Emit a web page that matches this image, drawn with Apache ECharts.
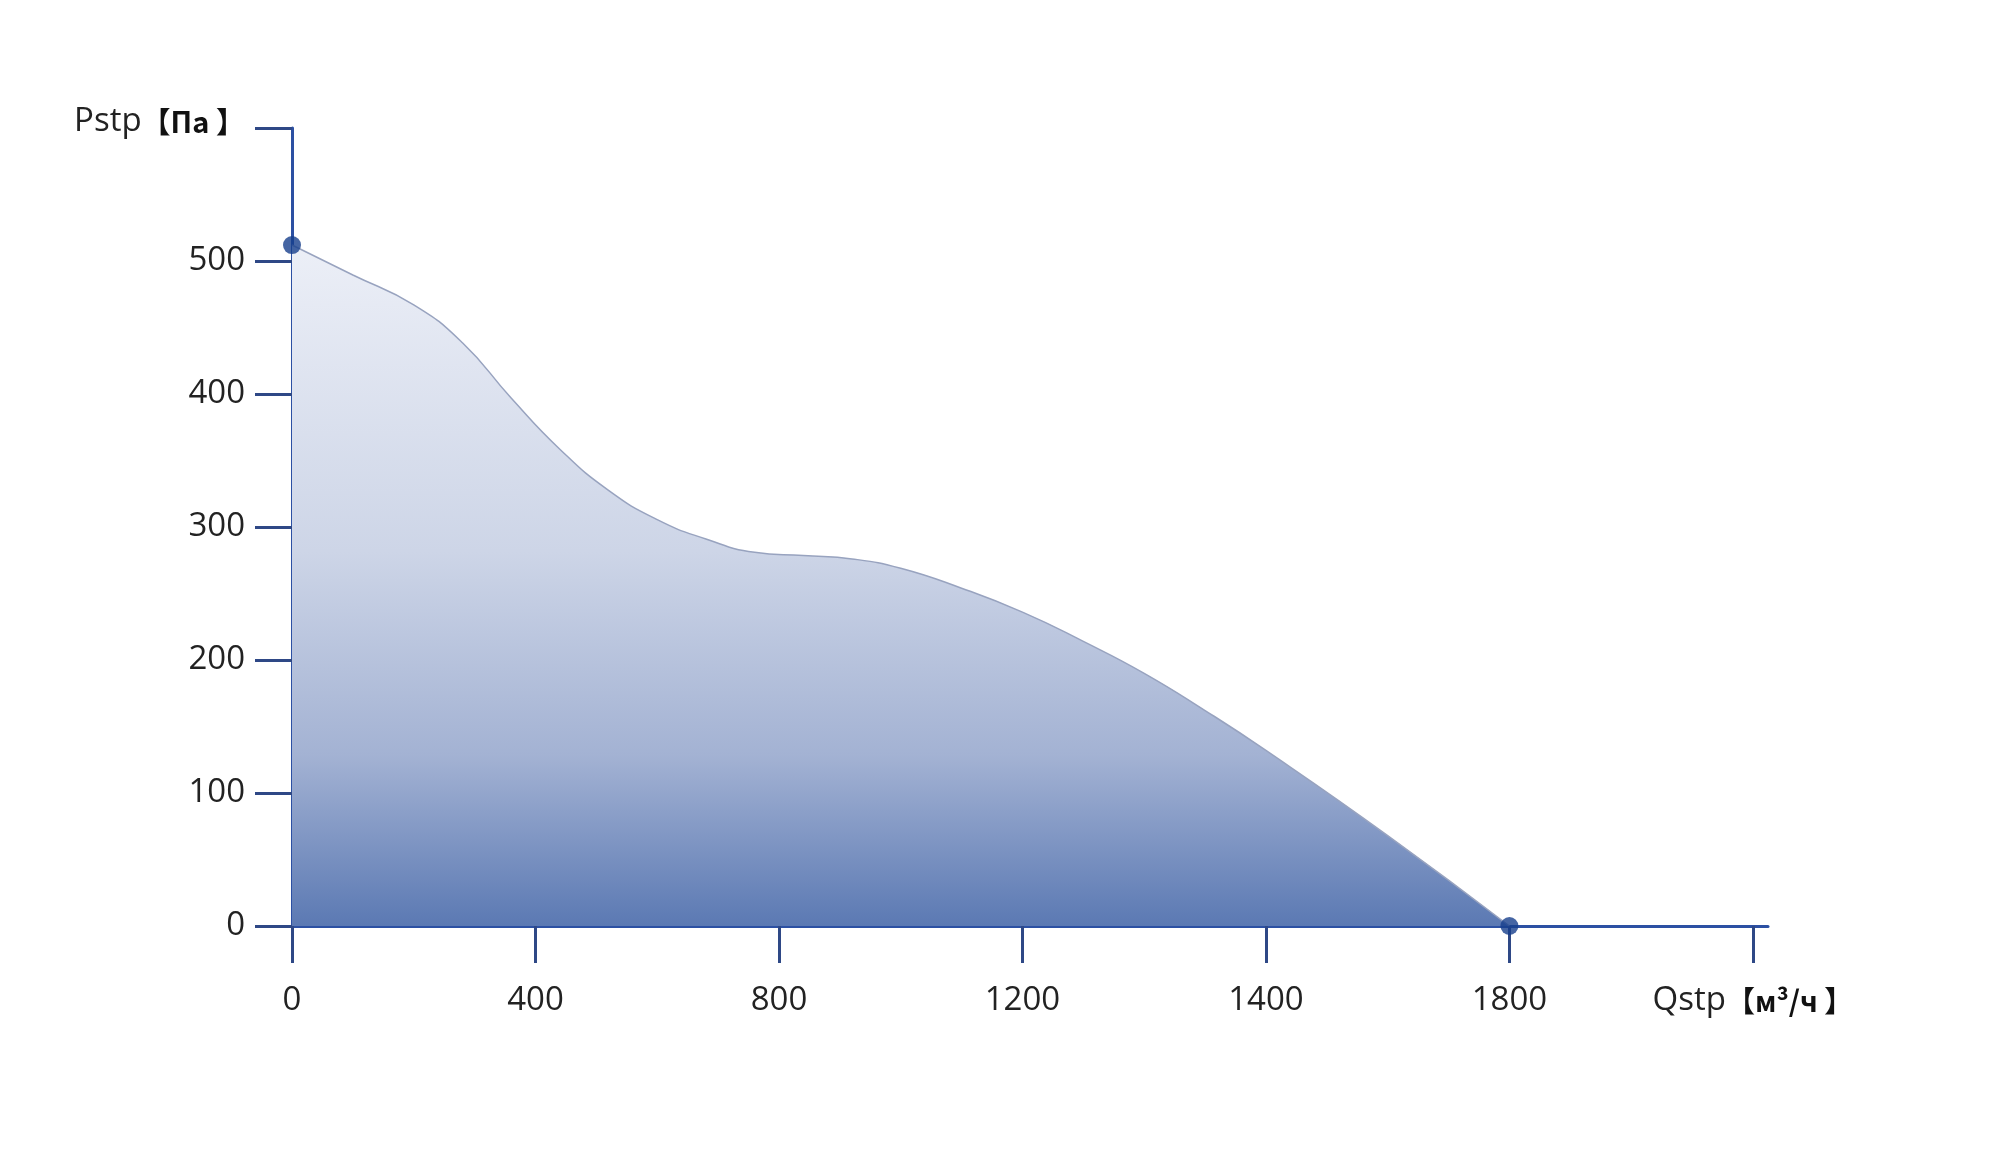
<!DOCTYPE html>
<html>
<head>
<meta charset="utf-8">
<script src="https://cdn.jsdelivr.net/npm/echarts@6/dist/echarts.min.js"></script>
<style>
html,body{margin:0;padding:0;background:#fff;}
#chart{width:1990px;height:1174px;}
</style>
</head>
<body>
<div id="chart"></div>
<script>
// X tick labels (evenly spaced ticks, as printed on the chart)
var xTickLabels = ['0', '400', '800', '1200', '1400', '1800', 'Qstp'];
var xUnit = '【м³/ч 】';
var yName = 'Pstp';
var yUnit = '【Па 】';
var yTicks = [0, 100, 200, 300, 400, 500, 600];

// Curve: position along the tick scale (tick index units) and static pressure [Па]
var qPos = [0.00, 0.25, 0.50, 0.70, 0.90, 1.10, 1.30, 1.50, 1.70, 1.90,
            2.10, 2.30, 2.50, 2.75, 3.00, 3.25, 3.50, 3.75, 4.00, 4.50, 5.00];
var pstp = [512, 489.5, 467, 438.5, 397, 358.5, 327.5, 305.5, 291, 281,
            278.5, 276, 269, 254, 236, 214, 190, 162, 132, 68, 0];

var curve = qPos.map(function (x, i) { return [x, pstp[i]]; });
var ends = [curve[0], curve[curve.length - 1]];

var chart = echarts.init(document.getElementById('chart'));
var axisColor = '#2c50a3';
var tickColor = '#2e4886';
var textColor = '#222';

chart.setOption({
  animation: false,
  backgroundColor: '#fff',
  grid: { left: 292, right: 222, top: 128, bottom: 248, containLabel: false },
  xAxis: {
    type: 'value',
    min: 0,
    max: 6.062,
    interval: 1,
    splitLine: { show: false },
    axisLine: { show: true, onZero: true, lineStyle: { color: axisColor, width: 3 } },
    axisTick: { show: true, length: 37, customValues: [0, 1, 2, 3, 4, 5, 6], lineStyle: { color: tickColor, width: 3 } },
    axisLabel: {
      customValues: [0, 1, 2, 3, 4, 5, 6],
      margin: 58,
      color: textColor,
      fontSize: 33,
      fontFamily: 'Open Sans',
      formatter: function (v) {
        var i = Math.round(v);
        if (i === xTickLabels.length - 1) {
          return '{a|' + xTickLabels[i] + '}{b|' + xUnit + '}';
        }
        return xTickLabels[i];
      },
      rich: {
        a: { fontSize: 33, fontFamily: 'Open Sans', color: textColor },
        b: { fontSize: 29, fontWeight: 'bold', fontFamily: 'Noto Sans CJK SC', color: '#111' }
      }
    }
  },
  yAxis: {
    type: 'value',
    min: 0,
    max: 600,
    interval: 100,
    splitLine: { show: false },
    axisLine: { show: true, lineStyle: { color: axisColor, width: 3 } },
    axisTick: { show: true, length: 37, lineStyle: { color: tickColor, width: 3 } },
    axisLabel: {
      margin: 47,
      color: textColor,
      fontSize: 33,
      fontFamily: 'Open Sans',
      formatter: function (v) {
        if (v === yTicks[yTicks.length - 1]) {
          return '{a|' + yName + '}{b|' + yUnit + '}';
        }
        return String(v);
      },
      rich: {
        a: { fontSize: 33, fontFamily: 'Open Sans', color: textColor, padding: [0, 0, 12, 0] },
        b: { fontSize: 29, fontWeight: 'bold', fontFamily: 'Noto Sans CJK SC', color: '#111', padding: [0, 0, 12, 0] }
      }
    }
  },
  series: [
    {
      type: 'line',
      data: curve,
      smooth: 0.5,
      showSymbol: false,
      symbol: 'none',
      clip: false,
      lineStyle: { color: '#98a3bf', width: 1.5 },
      areaStyle: {
        opacity: 1,
        color: new echarts.graphic.LinearGradient(0, 0, 0, 1, [
          { offset: 0, color: '#eceff7' },
          { offset: 0.45, color: '#cdd5e7' },
          { offset: 0.75, color: '#a3b2d3' },
          { offset: 1, color: '#5b79b3' }
        ])
      },
      z: 2
    },
    {
      type: 'scatter',
      data: ends,
      symbol: 'circle',
      symbolSize: 18,
      clip: false,
      itemStyle: { color: '#173e8c' },
      z: 5
    }
  ]
});
</script>
</body>
</html>
